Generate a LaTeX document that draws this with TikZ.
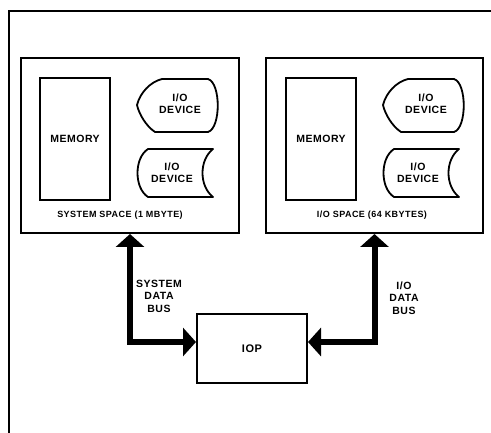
\documentclass[tikz,border=0pt]{standalone}
\usepackage{fontspec}
\setmainfont{Liberation Sans}
\newfontfamily\lblfont[LetterSpace=5]{Liberation Sans}
\usetikzlibrary{arrows.meta,calc}
\tikzset{
  outerframe/.style={line width=2pt},
  spacebox/.style={draw, line width=2pt, minimum width=218pt, minimum height=175pt, inner sep=0pt},
  membox/.style={draw, line width=2pt, minimum width=70pt, minimum height=122pt, inner sep=0pt, font=\lblfont\bfseries\fontsize{10.5}{12}\selectfont},
  devshape/.style={draw, line width=1.8pt, line join=round},
  devtext/.style={align=center, inner sep=0pt, font=\lblfont\bfseries\fontsize{10.5}{12}\selectfont},
  spacetext/.style={inner sep=0pt, font=\lblfont\bfseries\fontsize{9}{11}\selectfont},
  bustext/.style={align=center, inner sep=0pt, font=\lblfont\bfseries\fontsize{10.5}{12.5}\selectfont},
  iopbox/.style={draw, line width=2pt, minimum width=110pt, minimum height=69pt, inner sep=0pt, font=\lblfont\bfseries\fontsize{11}{13}\selectfont},
  bus/.style={line width=6pt, line join=miter, {Triangle[width=28pt,length=13pt]}-{Triangle[width=28pt,length=13pt]}}
}
\begin{document}
\begin{tikzpicture}[x=1pt,y=-1pt]
\useasboundingbox (0,0) rectangle (491,433);
% outer frame (cropped)
\draw[outerframe] (9,433) -- (9,11) -- (491,11);
% address spaces
\node[spacebox] (sys) at (130,145.5) {};
\node[spacebox, minimum width=217pt] (io) at (374.5,145.5) {};
% memories
\node[membox] (mem1) at (75,139) {MEMORY};
\node[membox] (mem2) at (321,139) {MEMORY};
% I/O devices
\foreach \dx/\nm in {0/a,246/b}{
  \begin{scope}[xshift=\dx pt]
    \draw[devshape] (162,79) -- (208,79) .. controls (221,83) and (221,128) .. (208,132)
      -- (155,132) .. controls (146,126) and (139,114) .. (137,105)
      .. controls (140,93) and (150,82) .. (162,79) -- cycle;
    \node[devtext] (dev1\nm) at (180,104) {I/O\\DEVICE};
    \draw[devshape] (148,149) -- (213,149) .. controls (199,160) and (199,186) .. (213,197)
      -- (148,197) .. controls (134,188) and (134,158) .. (148,149) -- cycle;
    \node[devtext] (dev2\nm) at (172,173) {I/O\\DEVICE};
  \end{scope}
}
% space labels
\node[spacetext] (syslbl) at (120,215) {SYSTEM SPACE (1 MBYTE)};
\node[spacetext] (iolbl) at (372,215) {I/O SPACE (64 KBYTES)};
% IOP
\node[iopbox] (iop) at (252,348.5) {IOP};
% buses
\coordinate (lc) at (130,342);
\coordinate (rc) at (374.5,342);
\draw[bus] (sys.south) -- (lc) -- (lc -| iop.west);
\draw[bus] (io.south) -- (rc) -- (rc -| iop.east);
\node[bustext] (sbus) at (159,296) {SYSTEM\\DATA\\BUS};
\node[bustext] (ibus) at (404,298) {I/O\\DATA\\BUS};
\end{tikzpicture}
\end{document}
